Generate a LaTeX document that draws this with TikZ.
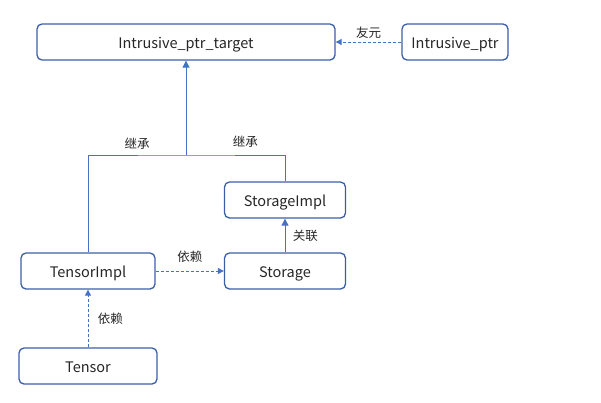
\documentclass[tikz,border=0pt]{standalone}
\usepackage{fontspec}
\setmainfont{Noto Sans CJK SC}
\usepackage{tikz}
\usetikzlibrary{positioning,arrows.meta}
\definecolor{boxblue}{HTML}{3A5DA8}
\definecolor{lineblue}{HTML}{4472C4}
\definecolor{txt}{HTML}{262626}

\begin{document}
\begin{tikzpicture}[
x=1pt, y=-1pt,
font=\fontsize{14.5}{16}\selectfont,
box/.style={draw=boxblue, line width=1.3pt, rounded corners=5pt, minimum height=36pt, text=txt, inner sep=0pt, text height=13.5pt, text depth=1pt},
lbl/.style={font=\fontsize{12.5}{14}\selectfont, text=txt},
link/.style={draw=lineblue, line width=0.9pt},
arrow/.style={link, -{Triangle[length=7pt, width=7pt]}},
deparrow/.style={link, dashed, dash pattern=on 3pt off 2pt, -{Triangle[length=6pt, width=6pt]}}
]
\useasboundingbox (0,0) rectangle (601,402);

\node[box, minimum width=298pt] (target) at (186,42) {Intrusive\_ptr\_target};
\node[box, minimum width=106pt] (ptr) at (455,42) {Intrusive\_ptr};
\node[box, minimum width=121pt] (simpl) at (285,200) {StorageImpl};
\node[box, minimum width=121pt] (storage) at (285,271) {Storage};
\node[box, minimum width=134pt] (timpl) at (88,271) {TensorImpl};
\node[box, minimum width=138pt] (tensor) at (88,366) {Tensor};
\coordinate (join) at (186,155);

\draw[deparrow] (ptr) -- node[lbl, above=0pt] {友元} (target);
\draw[link] (timpl.north) |- node[lbl, pos=0.75, above=2pt] {继承} (join)
  -| node[lbl, pos=0.3, above=4pt] {继承} (simpl.north);
\draw[arrow] (join) -- (target.south);
\draw[arrow] (storage) -- node[lbl, right=4pt] {关联} (simpl);
\draw[deparrow] (timpl) -- node[lbl, above=5pt] {依赖} (storage);
\draw[deparrow] (tensor) -- node[lbl, right=6pt] {依赖} (timpl);
\end{tikzpicture}
\end{document}
